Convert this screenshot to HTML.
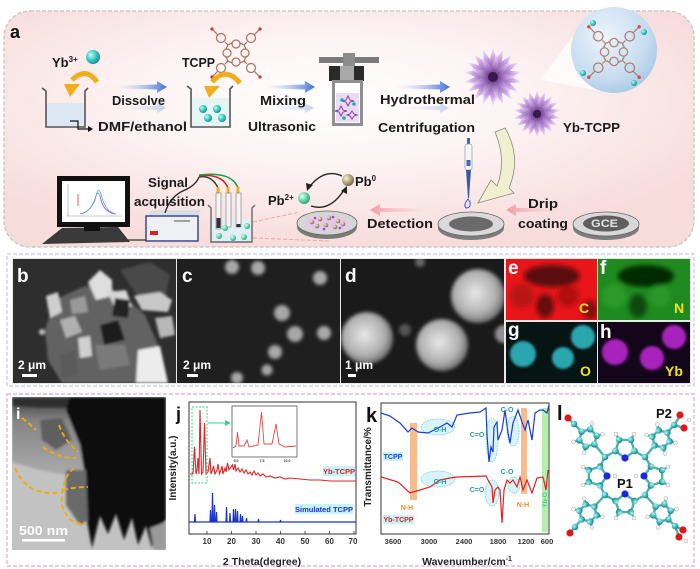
<!DOCTYPE html>
<html><head><meta charset="utf-8">
<style>
html,body{margin:0;padding:0;background:#fff}
svg{display:block}
text{font-family:"Liberation Sans",sans-serif;font-weight:bold}
</style></head>
<body>
<svg width="700" height="569" viewBox="0 0 700 569" xmlns="http://www.w3.org/2000/svg">
<defs>
  <radialGradient id="bgA" cx="0.47" cy="0.38" r="0.62">
    <stop offset="0" stop-color="#ffffff"/>
    <stop offset="0.45" stop-color="#fdf3f3"/>
    <stop offset="1" stop-color="#f7dcdc"/>
  </radialGradient>
  <linearGradient id="barr" x1="0" y1="0" x2="1" y2="0">
    <stop offset="0" stop-color="#ffffff" stop-opacity="0"/>
    <stop offset="1" stop-color="#3d70d8"/>
  </linearGradient>
  <linearGradient id="parr" x1="0" y1="0" x2="1" y2="0">
    <stop offset="0" stop-color="#f49aa4"/>
    <stop offset="1" stop-color="#fbe0e0" stop-opacity="0.2"/>
  </linearGradient>
  <radialGradient id="teal" cx="0.35" cy="0.35" r="0.7">
    <stop offset="0" stop-color="#c8fbf6"/><stop offset="0.5" stop-color="#3fcfc6"/><stop offset="1" stop-color="#178c88"/>
  </radialGradient>
  <radialGradient id="gold" cx="0.35" cy="0.35" r="0.7">
    <stop offset="0" stop-color="#f4f0dc"/><stop offset="0.5" stop-color="#b9ad85"/><stop offset="1" stop-color="#6f6547"/>
  </radialGradient>
  <radialGradient id="mint" cx="0.35" cy="0.35" r="0.7">
    <stop offset="0" stop-color="#e6fff0"/><stop offset="0.5" stop-color="#6fdcae"/><stop offset="1" stop-color="#2e9d74"/>
  </radialGradient>
  <radialGradient id="bub" cx="0.4" cy="0.35" r="0.7">
    <stop offset="0" stop-color="#eef5fc"/><stop offset="0.7" stop-color="#c6dcf0"/><stop offset="1" stop-color="#a9c7e6"/>
  </radialGradient>
  <linearGradient id="spg" x1="0" y1="1" x2="0" y2="0">
    <stop offset="0" stop-color="#7a4a9a"/><stop offset="0.55" stop-color="#c8a2e2"/><stop offset="1" stop-color="#fbf4fe"/>
  </linearGradient>
  <radialGradient id="fc" cx="0.5" cy="0.5" r="0.5">
    <stop offset="0" stop-color="#4a2260"/><stop offset="1" stop-color="#b894d4"/>
  </radialGradient>
  <path id="sp" d="M-6,-6 L0,-30 L6,-6 Z" fill="url(#spg)"/>
  <path id="sp2" d="M-5,-5 L0,-24 L5,-5 Z" fill="url(#spg)"/>
  <g id="flower">
    <circle r="18" fill="url(#fc)"/>
    <use href="#sp"/><use href="#sp" transform="rotate(20)"/><use href="#sp" transform="rotate(40)"/>
    <use href="#sp" transform="rotate(60)"/><use href="#sp" transform="rotate(80)"/><use href="#sp" transform="rotate(100)"/>
    <use href="#sp" transform="rotate(120)"/><use href="#sp" transform="rotate(140)"/><use href="#sp" transform="rotate(160)"/>
    <use href="#sp" transform="rotate(180)"/><use href="#sp" transform="rotate(200)"/><use href="#sp" transform="rotate(220)"/>
    <use href="#sp" transform="rotate(240)"/><use href="#sp" transform="rotate(260)"/><use href="#sp" transform="rotate(280)"/>
    <use href="#sp" transform="rotate(300)"/><use href="#sp" transform="rotate(320)"/><use href="#sp" transform="rotate(340)"/>
    <use href="#sp2" transform="rotate(10)"/><use href="#sp2" transform="rotate(50)"/><use href="#sp2" transform="rotate(90)"/>
    <use href="#sp2" transform="rotate(130)"/><use href="#sp2" transform="rotate(170)"/><use href="#sp2" transform="rotate(210)"/>
    <use href="#sp2" transform="rotate(250)"/><use href="#sp2" transform="rotate(290)"/><use href="#sp2" transform="rotate(330)"/>
    <circle r="5" fill="#3a1a4a"/>
  </g>
  <g id="tcpp" fill="none" stroke="#a8705a" stroke-width="1.2">
    <circle cx="0" cy="-9" r="4"/><circle cx="9" cy="0" r="4"/><circle cx="0" cy="9" r="4"/><circle cx="-9" cy="0" r="4"/>
    <path d="M-4,-10 L-8,-8 L-10,-4 M4,-10 L8,-8 L10,-4 M-4,10 L-8,8 L-10,4 M4,10 L8,8 L10,4"/>
    <path d="M-8,-8 L-11,-11 M8,-8 L11,-11 M-8,8 L-11,11 M8,8 L11,11"/>
    <circle cx="-15" cy="-15" r="4.5"/><circle cx="15" cy="-15" r="4.5"/><circle cx="-15" cy="15" r="4.5"/><circle cx="15" cy="15" r="4.5"/>
    <path d="M-18,-18 L-23,-23 M18,-18 L23,-23 M-18,18 L-23,23 M18,18 L23,23"/>
    <circle cx="-24" cy="-24" r="1.6" fill="#d83030" stroke="none"/><circle cx="24" cy="-24" r="1.6" fill="#d83030" stroke="none"/>
    <circle cx="-24" cy="24" r="1.6" fill="#d83030" stroke="none"/><circle cx="24" cy="24" r="1.6" fill="#d83030" stroke="none"/>
  </g>
  <filter id="bl" x="-10%" y="-10%" width="120%" height="120%"><feGaussianBlur stdDeviation="1.3"/></filter>
  <filter id="bl2" x="-20%" y="-20%" width="140%" height="140%"><feGaussianBlur stdDeviation="1.8"/></filter>
  <filter id="bl3" x="-20%" y="-20%" width="140%" height="140%"><feGaussianBlur stdDeviation="2.5"/></filter>
  <clipPath id="cb"><rect x="13" y="259" width="163" height="124"/></clipPath>
  <clipPath id="cc"><rect x="177" y="259" width="163" height="124"/></clipPath>
  <clipPath id="cd"><rect x="341" y="259" width="163" height="124"/></clipPath>
  <clipPath id="ce"><rect x="506" y="259" width="91" height="61"/></clipPath>
  <clipPath id="cf"><rect x="598" y="259" width="92" height="61"/></clipPath>
  <clipPath id="cg"><rect x="506" y="322" width="91" height="61"/></clipPath>
  <clipPath id="ch"><rect x="598" y="322" width="92" height="61"/></clipPath>
  <clipPath id="ci"><rect x="12" y="397" width="154" height="153"/></clipPath>
  <linearGradient id="temg" x1="0" y1="0" x2="0" y2="1">
    <stop offset="0" stop-color="#3a3a3a"/><stop offset="0.3" stop-color="#858585"/><stop offset="1" stop-color="#ababab"/>
  </linearGradient>
  <radialGradient id="cat" cx="0.35" cy="0.35" r="0.7">
    <stop offset="0" stop-color="#b8f4f4"/><stop offset="0.6" stop-color="#3cb8b8"/><stop offset="1" stop-color="#1a7a7a"/>
  </radialGradient>
  <radialGradient id="sem" cx="0.45" cy="0.45" r="0.55">
    <stop offset="0" stop-color="#e8e8e8"/><stop offset="0.7" stop-color="#b0b0b0"/><stop offset="1" stop-color="#707070"/>
  </radialGradient>
  <g id="pyr">
    <path d="M0,10 L-9.51,3.09 L-5.88,-8.09 L5.88,-8.09 L9.51,3.09 Z M-5.88,-8.09 L-9,-14 M5.88,-8.09 L9,-14" fill="none" stroke="#4fb0b0" stroke-width="2.4"/>
    <circle cx="-9" cy="-14" r="2" fill="#f2f2f2" stroke="#999" stroke-width="0.4"/>
    <circle cx="9" cy="-14" r="2" fill="#f2f2f2" stroke="#999" stroke-width="0.4"/>
    <circle cx="-9.51" cy="3.09" r="3.3" fill="url(#cat)"/><circle cx="9.51" cy="3.09" r="3.3" fill="url(#cat)"/>
    <circle cx="-5.88" cy="-8.09" r="3.3" fill="url(#cat)"/><circle cx="5.88" cy="-8.09" r="3.3" fill="url(#cat)"/>
    <circle cx="0" cy="10" r="3.6" fill="#1a2ad8"/>
  </g>
  <g id="hex">
    <path d="M9,0 L4.5,7.79 L-4.5,7.79 L-9,0 L-4.5,-7.79 L4.5,-7.79 Z M4.5,7.79 L7.5,13 M-4.5,7.79 L-7.5,13 M-4.5,-7.79 L-7.5,-13 M4.5,-7.79 L7.5,-13" fill="none" stroke="#4fb0b0" stroke-width="2.4"/>
    <circle cx="7.5" cy="13" r="2" fill="#f2f2f2" stroke="#999" stroke-width="0.4"/>
    <circle cx="-7.5" cy="13" r="2" fill="#f2f2f2" stroke="#999" stroke-width="0.4"/>
    <circle cx="-7.5" cy="-13" r="2" fill="#f2f2f2" stroke="#999" stroke-width="0.4"/>
    <circle cx="7.5" cy="-13" r="2" fill="#f2f2f2" stroke="#999" stroke-width="0.4"/>
    <circle cx="9" cy="0" r="3.3" fill="url(#cat)"/><circle cx="4.5" cy="7.79" r="3.3" fill="url(#cat)"/>
    <circle cx="-4.5" cy="7.79" r="3.3" fill="url(#cat)"/><circle cx="-9" cy="0" r="3.3" fill="url(#cat)"/>
    <circle cx="-4.5" cy="-7.79" r="3.3" fill="url(#cat)"/><circle cx="4.5" cy="-7.79" r="3.3" fill="url(#cat)"/>
  </g>
</defs>

<rect width="700" height="569" fill="#ffffff"/>

<!-- ================= PANEL A ================= -->
<rect x="4" y="11" width="690" height="236" rx="26" fill="url(#bgA)" stroke="#c9c9c9" stroke-width="1.4" stroke-dasharray="4 2"/>
<text x="10" y="38" font-size="18" fill="#111">a</text>

<text x="52" y="67" font-size="13" fill="#1a1a1a">Yb<tspan font-size="8" dy="-5">3+</tspan></text>
<circle cx="93" cy="57" r="7" fill="url(#teal)"/>
<rect x="46" y="103" width="38" height="24" fill="#dce8f4"/>
<path d="M42,88 L46,91 L46,127 L85,127 L85,91 L88,88" fill="none" stroke="#555" stroke-width="1.6"/>
<path d="M97,82 Q86,66 72,80" fill="none" stroke="#f0ae1c" stroke-width="5"/>
<polygon points="64,84 80,84 70,97" fill="#f0ae1c"/>
<path d="M70,121 L78,121 L78,129 L89,129" fill="none" stroke="#111" stroke-width="1.2"/>
<polygon points="88,126 93,129 88,132" fill="#111"/>

<polygon points="108,86 157,84.5 157,81 167,87 157,93 157,89.5 108,88" fill="url(#barr)"/>
<polygon points="108,107 157,106 157,103 166,108 157,113 157,110 108,109" fill="url(#barr)" opacity="0.3"/>
<text x="112" y="105" font-size="13" fill="#1a1a1a" textLength="53" lengthAdjust="spacingAndGlyphs">Dissolve</text>
<text x="98" y="131" font-size="13" fill="#1a1a1a" textLength="89" lengthAdjust="spacingAndGlyphs">DMF/ethanol</text>

<text x="182" y="67" font-size="13" fill="#1a1a1a" textLength="33" lengthAdjust="spacingAndGlyphs">TCPP</text>
<use href="#tcpp" transform="translate(236,53)"/>
<rect x="191" y="98" width="38" height="29" fill="#e6f4f4"/>
<path d="M187,86 L191,89 L191,127 L230,127 L230,89 L233,86" fill="none" stroke="#555" stroke-width="1.6"/>
<circle cx="203" cy="109" r="4" fill="url(#teal)"/><circle cx="217" cy="109" r="4" fill="url(#teal)"/>
<circle cx="208" cy="118" r="4" fill="url(#teal)"/><circle cx="222" cy="118" r="4" fill="url(#teal)"/>
<path d="M240,83 Q226,66 212,82" fill="none" stroke="#f0ae1c" stroke-width="5"/>
<polygon points="204,86 220,86 209,98" fill="#f0ae1c"/>

<polygon points="256,86 305,84.5 305,81 315,87 305,93 305,89.5 256,88" fill="url(#barr)"/>
<polygon points="256,107 305,106 305,103 314,108 305,113 305,110 256,109" fill="url(#barr)" opacity="0.3"/>
<text x="260" y="105" font-size="13" fill="#1a1a1a" textLength="46" lengthAdjust="spacingAndGlyphs">Mixing</text>
<text x="248" y="131" font-size="13" fill="#1a1a1a" textLength="68" lengthAdjust="spacingAndGlyphs">Ultrasonic</text>

<rect x="319" y="57" width="60" height="6" fill="#7a7a7a"/>
<rect x="343" y="53" width="12" height="14" fill="#8c8c8c"/>
<rect x="329" y="66" width="35" height="15" fill="#2a2a2a"/>
<rect x="340" y="66" width="14" height="15" fill="#a8a8a8"/>
<rect x="332" y="80" width="31" height="46" fill="#8f8f8f"/>
<rect x="335" y="83" width="25" height="40" fill="#ffffff"/>
<rect x="336" y="93" width="23" height="29" fill="#eadcf0"/>
<path d="M348,96 l2,4 4,1 -4,1 -2,4 -2,-4 -4,-1 4,-1 Z M341,106 l2,4 4,1 -4,1 -2,4 -2,-4 -4,-1 4,-1 Z M352,111 l2,3 3,1 -3,1 -2,3 -2,-3 -3,-1 3,-1 Z" fill="none" stroke="#8a3ab0" stroke-width="1"/>
<circle cx="342" cy="100" r="1.8" fill="#1ab0a8"/><circle cx="354" cy="104" r="1.8" fill="#1ab0a8"/><circle cx="344" cy="118" r="1.8" fill="#1ab0a8"/>

<polygon points="388,86 440,84.5 440,81 450,87 440,93 440,89.5 388,88" fill="url(#barr)"/>
<polygon points="388,107 440,106 440,103 449,108 440,113 440,110 388,109" fill="url(#barr)" opacity="0.3"/>
<text x="380" y="104" font-size="13" fill="#1a1a1a" textLength="95" lengthAdjust="spacingAndGlyphs">Hydrothermal</text>
<text x="378" y="132" font-size="13" fill="#1a1a1a" textLength="97" lengthAdjust="spacingAndGlyphs">Centrifugation</text>

<polygon points="540,80 582,24 596,90" fill="#ffffff" opacity="0.75"/>
<circle cx="614" cy="50" r="43" fill="url(#bub)"/>
<use href="#tcpp" transform="translate(614,52) scale(1.05)" opacity="0.85"/>
<circle cx="593" cy="23" r="3" fill="url(#teal)"/><circle cx="644" cy="32" r="3" fill="url(#teal)"/>
<circle cx="583" cy="73" r="3" fill="url(#teal)"/><circle cx="634" cy="83" r="3" fill="url(#teal)"/>

<use href="#flower" transform="translate(493,77)"/>
<use href="#flower" transform="translate(537,114) scale(0.82)"/>
<text x="563" y="132" font-size="13" fill="#1a1a1a" textLength="57" lengthAdjust="spacingAndGlyphs">Yb-TCPP</text>

<polygon points="42,244 62,228 118,227 130,242" fill="#3a3a3a"/>
<rect x="57" y="176" width="73" height="51" fill="#111"/>
<rect x="62" y="181" width="63" height="41" fill="#fff"/>
<path d="M66,216 L122,216 M68,184 L68,216" stroke="#999" stroke-width="0.6"/>
<path d="M80,214 Q90,212 95,200 Q98,186 101,200 Q104,212 115,214" fill="none" stroke="#c040c0" stroke-width="0.8"/>
<path d="M82,214 Q92,210 96,196 Q99,184 102,198 Q106,212 116,214" fill="none" stroke="#40b0d0" stroke-width="0.8"/>
<path d="M78,194 L78,206" stroke="#e03040" stroke-width="0.8"/>
<rect x="84" y="227" width="16" height="4" fill="#111"/>
<path d="M128,240 L147,240" stroke="#333" stroke-width="1.2"/>
<polygon points="147,216 152,210 201,210 198,216" fill="#d8dde6"/>
<rect x="146" y="216" width="52" height="25" fill="#eef0f4" stroke="#2b3f8a" stroke-width="1.4"/>
<rect x="150" y="231" width="8" height="4" fill="#d82020"/>
<path d="M174,221 L190,221" stroke="#555" stroke-width="1"/>
<path d="M165,213 Q170,196 185,190 Q196,185 199,177" fill="none" stroke="#222" stroke-width="1.3"/>
<text x="148" y="187" font-size="13" fill="#1a1a1a" textLength="40" lengthAdjust="spacingAndGlyphs">Signal</text>
<text x="134" y="206" font-size="13" fill="#1a1a1a" textLength="71" lengthAdjust="spacingAndGlyphs">acquisition</text>
<path d="M199,177 Q212,175 218,188" fill="none" stroke="#333" stroke-width="1.4"/>
<path d="M199,176 Q222,173 228,188" fill="none" stroke="#d02020" stroke-width="1.6"/>
<path d="M199,175 Q232,171 238,188" fill="none" stroke="#1da040" stroke-width="1.6"/>
<rect x="216.5" y="187" width="3" height="6" fill="#e8b020"/>
<rect x="226.5" y="187" width="3" height="6" fill="#e8b020"/>
<rect x="236.5" y="187" width="3" height="6" fill="#e8b020"/>
<rect x="211" y="219" width="41" height="23" fill="#e2eef6"/>
<path d="M208,205 L211,208 L211,242 L252,242 L252,208 L255,205" fill="none" stroke="#666" stroke-width="1.4"/>
<rect x="216" y="193" width="5" height="36" fill="#f4f4f4" stroke="#777" stroke-width="0.6"/>
<rect x="216.5" y="218" width="4" height="10" fill="#333"/>
<rect x="226" y="193" width="5" height="34" fill="#f4f4f4" stroke="#777" stroke-width="0.6"/>
<rect x="236" y="193" width="5" height="34" fill="#f4f4f4" stroke="#777" stroke-width="0.6"/>
<rect x="236.5" y="224" width="4" height="3" fill="#333"/>
<circle cx="225" cy="228" r="3" fill="url(#mint)"/><circle cx="247" cy="226" r="3" fill="url(#mint)"/>
<circle cx="219" cy="236" r="3" fill="url(#mint)"/><circle cx="233" cy="238" r="3" fill="url(#mint)"/><circle cx="244" cy="237" r="3" fill="url(#mint)"/>
<path d="M253,222 L300,212 M253,238 L330,241" stroke="#f2a4a8" stroke-width="1" stroke-dasharray="4 2"/>

<text x="268" y="205" font-size="13" fill="#1a1a1a">Pb<tspan font-size="8" dy="-5">2+</tspan></text>
<circle cx="304" cy="198" r="6" fill="url(#mint)"/>
<circle cx="348" cy="180" r="6" fill="url(#gold)"/>
<text x="355" y="186" font-size="13" fill="#1a1a1a">Pb<tspan font-size="8" dy="-5">0</tspan></text>
<path d="M342,176 Q325,168 310,186" fill="none" stroke="#222" stroke-width="1.3"/>
<polygon points="306,183 313,185 307,191" fill="#222"/>
<path d="M311,206 Q330,212 344,190" fill="none" stroke="#222" stroke-width="1.3"/>
<polygon points="341,191 347,186 347,194" fill="#222"/>
<ellipse cx="327" cy="227" rx="30" ry="12" fill="#7a7a7a"/>
<ellipse cx="327" cy="223" rx="30" ry="12" fill="#d6d6d6" stroke="#666" stroke-width="0.8"/>
<ellipse cx="327" cy="223" rx="22" ry="7.5" fill="#e8c8ea"/>
<g fill="url(#gold)">
<circle cx="312" cy="222" r="2.3"/><circle cx="320" cy="219" r="2.3"/><circle cx="329" cy="218" r="2.3"/><circle cx="338" cy="221" r="2.3"/>
<circle cx="317" cy="226" r="2.3"/><circle cx="326" cy="225" r="2.3"/><circle cx="335" cy="227" r="2.3"/><circle cx="343" cy="224" r="2.3"/>
</g>
<g fill="#9a4ac0"><circle cx="315" cy="218" r="1.3"/><circle cx="324" cy="229" r="1.3"/><circle cx="333" cy="217" r="1.3"/><circle cx="340" cy="228" r="1.3"/></g>

<polygon points="370,210 380,204 380,208 432,208.5 432,211.5 380,212 380,216" fill="url(#parr)"/>
<text x="367" y="228" font-size="13" fill="#1a1a1a" textLength="66" lengthAdjust="spacingAndGlyphs">Detection</text>
<ellipse cx="471" cy="228" rx="33" ry="12" fill="#7c7c7c"/>
<ellipse cx="471" cy="224" rx="33" ry="12" fill="#dadada" stroke="#666" stroke-width="0.8"/>
<ellipse cx="471" cy="224" rx="22" ry="7.5" fill="#6a6a6a"/>
<rect x="467" y="138" width="3" height="6" fill="#3a6ab0"/>
<rect x="465" y="144" width="7" height="26" rx="2" fill="#f4f6f8" stroke="#8a9ab0" stroke-width="0.7"/>
<rect x="466.5" y="160" width="4" height="6" fill="#3a6ab0"/>
<polygon points="466,170 471,170 469,198 468,198" fill="#3a5aa0"/>
<path d="M468,199 Q463,205 466,208 Q471,208 470,202 Z" fill="#e8e6ff" stroke="#4040c0" stroke-width="0.9"/>
<path d="M495,132 L505,128 Q522,157 509,188 L514,193 L478,203 L491,180 L497,186 Q507,160 495,132 Z" fill="#f2eed0" stroke="#8a8a7a" stroke-width="0.8"/>
<polygon points="506,210 516,204 516,208 566,208.5 566,211.5 516,212 516,216" fill="url(#parr)"/>
<text x="528" y="208" font-size="13" fill="#1a1a1a" textLength="30" lengthAdjust="spacingAndGlyphs">Drip</text>
<text x="518" y="228" font-size="13" fill="#1a1a1a" textLength="50" lengthAdjust="spacingAndGlyphs">coating</text>
<ellipse cx="606" cy="228" rx="33" ry="12" fill="#7c7c7c"/>
<ellipse cx="606" cy="224" rx="33" ry="12" fill="#d8d8d8" stroke="#666" stroke-width="0.8"/>
<ellipse cx="606" cy="223.5" rx="23" ry="8" fill="#5e5e5e"/>
<text x="591" y="227" font-size="11" fill="#e4e4e4" textLength="27" lengthAdjust="spacingAndGlyphs">GCE</text>

<!-- ================= PANEL B-H ================= -->
<rect x="7" y="254" width="687" height="132" fill="none" stroke="#d9cdee" stroke-width="1.4" stroke-dasharray="4 2"/>
<rect x="12" y="258" width="679" height="126" fill="#e8e8e8"/>

<g clip-path="url(#cb)">
<rect x="13" y="259" width="163" height="124" fill="#2e2e2e"/>
<g filter="url(#bl)">
<polygon points="45,330 55,300 80,288 100,282 122,295 145,315 158,345 150,383 62,383 48,360" fill="#626262"/>
<polygon points="120,270 150,262 170,275 165,300 140,300" fill="#4a4a4a"/>
<polygon points="88,282 100,270 112,280 112,296 96,300" fill="#dedede"/>
<polygon points="108,292 126,290 132,306 116,312" fill="#d6d6d6"/>
<polygon points="134,296 160,292 172,300 168,312 142,310" fill="#c8c8c8"/>
<polygon points="46,296 58,292 62,312 50,318" fill="#cfcfcf"/>
<polygon points="60,320 75,316 82,332 66,338" fill="#b0b0b0"/>
<polygon points="78,338 90,336 92,356 80,358" fill="#d0d0d0"/>
<polygon points="138,350 160,346 168,383 136,383" fill="#ececec"/>
<polygon points="100,325 118,320 125,340 104,345" fill="#1c1c1c"/>
<polygon points="115,298 130,300 128,318 112,316" fill="#202020"/>
<polygon points="70,300 85,296 88,312 72,314" fill="#9a9a9a"/>
<polygon points="95,345 125,345 130,365 100,370" fill="#7a7a7a"/>
<polygon points="60,355 75,350 78,375 62,378" fill="#5a5a5a"/>
<polygon points="155,318 172,316 175,335 160,338" fill="#b8b8b8"/>
<circle cx="42" cy="332" r="3" fill="#bbb"/>
</g>
<text x="17" y="282" font-size="19" fill="#fff">b</text>
<text x="18" y="369" font-size="12" fill="#fff">2 μm</text>
<rect x="22" y="374" width="15" height="3" fill="#fff"/>
</g>

<g clip-path="url(#cc)">
<rect x="177" y="259" width="163" height="124" fill="#1f1f1f"/>
<g filter="url(#bl2)" fill="#a8a8a8">
<circle cx="232" cy="267" r="7"/><circle cx="258" cy="268" r="7"/><circle cx="320" cy="278" r="7"/>
<circle cx="282" cy="313" r="8"/><circle cx="295" cy="334" r="8"/><circle cx="324" cy="333" r="7"/>
<circle cx="275" cy="352" r="7"/><circle cx="267" cy="370" r="5.5"/><circle cx="237" cy="378" r="6"/>
</g>
<text x="182" y="282" font-size="19" fill="#fff">c</text>
<text x="183" y="369" font-size="12" fill="#fff">2 μm</text>
<rect x="187" y="374" width="11" height="3" fill="#fff"/>
</g>

<g clip-path="url(#cd)">
<rect x="341" y="259" width="163" height="124" fill="#1a1a1a"/>
<g filter="url(#bl2)">
<circle cx="367" cy="338" r="26" fill="url(#sem)"/>
<circle cx="442" cy="345" r="26" fill="url(#sem)"/>
<circle cx="478" cy="296" r="27" fill="url(#sem)"/>
<circle cx="504" cy="334" r="9" fill="#909090"/>
<circle cx="405" cy="330" r="6" fill="#555"/>
<circle cx="420" cy="262" r="5" fill="#666"/>
</g>
<text x="345" y="282" font-size="19" fill="#fff">d</text>
<text x="345" y="369" font-size="12" fill="#fff">1 μm</text>
<rect x="348" y="374" width="8" height="3" fill="#fff"/>
</g>

<g clip-path="url(#ce)">
<rect x="506" y="259" width="91" height="61" fill="#e8161a"/>
<g filter="url(#bl3)">
<ellipse cx="552" cy="276" rx="28" ry="11" fill="#5a0808"/>
<ellipse cx="545" cy="306" rx="9" ry="12" fill="#6a0a0a"/>
<ellipse cx="590" cy="310" rx="8" ry="10" fill="#8a0c0c"/>
<circle cx="522" cy="296" r="12" fill="#b81212"/>
<circle cx="568" cy="296" r="11" fill="#b41010"/>
</g>
<text x="508" y="274" font-size="19" fill="#fff">e</text>
<text x="579" y="313" font-size="14" fill="#f2e21a">C</text>
</g>
<g clip-path="url(#cf)">
<rect x="598" y="259" width="92" height="61" fill="#1f8a1f"/>
<g filter="url(#bl3)">
<ellipse cx="646" cy="276" rx="28" ry="11" fill="#062a06"/>
<ellipse cx="638" cy="306" rx="9" ry="12" fill="#0e4a0e"/>
<circle cx="614" cy="296" r="12" fill="#2a9a2a"/>
<circle cx="660" cy="296" r="11" fill="#2a962a"/>
</g>
<text x="600" y="274" font-size="19" fill="#fff">f</text>
<text x="674" y="313" font-size="14" fill="#f2e21a">N</text>
</g>
<g clip-path="url(#cg)">
<rect x="506" y="322" width="91" height="61" fill="#061414"/>
<g filter="url(#bl)" fill="#2aa6ae">
<circle cx="523" cy="354" r="13"/><circle cx="563" cy="358" r="11"/><circle cx="583" cy="337" r="12"/>
</g>
<text x="508" y="336" font-size="19" fill="#fff">g</text>
<text x="580" y="376" font-size="14" fill="#f2e21a">O</text>
</g>
<g clip-path="url(#ch)">
<rect x="598" y="322" width="92" height="61" fill="#14061a"/>
<g filter="url(#bl)" fill="#a822bc">
<circle cx="615" cy="352" r="13"/><circle cx="652" cy="358" r="12"/><circle cx="674" cy="337" r="12"/>
</g>
<text x="600" y="338" font-size="19" fill="#fff">h</text>
<text x="665" y="376" font-size="14" fill="#f2e21a">Yb</text>
</g>

<!-- ================= BOTTOM PANEL ================= -->
<rect x="7" y="394" width="687" height="172" fill="none" stroke="#e2b9d2" stroke-width="1.4" stroke-dasharray="4 2"/>

<g clip-path="url(#ci)">
<rect x="12" y="397" width="154" height="153" fill="#c2c2c2"/>
<g filter="url(#bl)">
<polygon points="12,397 100,397 92,468 70,476 40,470 12,462" fill="url(#temg)"/>
<polygon points="12,397 90,397 80,408 40,408 12,406" fill="#2e2e2e"/>
<polygon points="70,397 166,397 166,520 158,528 152,548 146,526 138,545 132,518 124,540 116,514 108,534 100,516 92,548 86,515 84,470 80,445 72,425 66,410" fill="#0e0e0e"/>
<polygon points="66,470 86,470 88,520 80,525 66,505" fill="#6a6a6a"/>
<polygon points="40,420 62,418 72,440 56,450 42,440" fill="#5e5e5e"/>
<polygon points="150,528 166,522 166,550 154,550" fill="#9a9a9a"/>
</g>
<g fill="none" stroke="#f5ac00" stroke-width="1.8" stroke-dasharray="5 3">
<path d="M22,418 Q30,424 36,430"/>
<path d="M59,425 Q64,440 78,452"/>
<path d="M43,447 Q58,458 76,458"/>
<path d="M15,468 Q24,490 47,493 Q54,494 60,492"/>
<path d="M74,468 Q60,480 62,505 Q68,525 86,524"/>
<path d="M63,490 Q75,487 88,487"/>
</g>
<text x="16" y="419" font-size="16" fill="#fff">i</text>
<text x="19" y="535" font-size="13" fill="#fff" font-weight="normal" textLength="49" lengthAdjust="spacingAndGlyphs">500 nm</text>
<rect x="22" y="539" width="43" height="2.5" fill="#fff"/>
</g>

<text x="176" y="420" font-size="18" fill="#111">j</text>
<text transform="translate(176,468) rotate(-90)" font-size="10" fill="#222" text-anchor="middle">Intensity(a.u.)</text>
<rect x="189" y="402" width="167" height="132" fill="#fff" stroke="#333" stroke-width="1"/>
<polyline fill="none" stroke="#e02424" stroke-width="1.1" points="190,474 193,474 194.5,447 196,474 197,470 198,458 199,474 200,410 201.5,474 203,472 204.5,423 206,474 208,472 210,458 211,474 212.5,470 213.5,466 215,474 217,470 218,464 219.5,474 221,470 222,466 223,474 225,468 226,472 227.5,463 229,470 231,467 232.5,465 233.5,470 235,464 236,471 238,468 240,472 242,469 244,473 246,470 248,474 250,472 252,475 254,471 256,475 258,473 260,476 263,474 266,477 270,476 275,478 280,477 285,479 290,478 300,479 310,480 320,480 330,481 340,481 356,481"/>
<polyline fill="none" stroke="#1a34c8" stroke-width="1.2" points="189,522 194.5,522 195,514 195.5,522 210,522 210.5,510 211,522 212,522 212.5,493 213,522 214,522 214.5,505 215,522 216,522 216.5,512 217,522 226,522 226.5,507 227,522 229.5,522 230,513 230.5,522 233,522 233.5,509 234,522 235,522 235.5,509 236,522 237,522 237.5,511 238,522 240,522 240.5,514 241,522 242,522 242.5,516 243,522 246,522 246.5,518 247,522 258,522 258.5,519 259,522 280,522 280.5,520 281,522 356,522"/>
<rect x="192" y="407" width="15" height="76" fill="none" stroke="#3ad28a" stroke-width="1" stroke-dasharray="2 1.5"/>
<path d="M208,423 L226,423" stroke="#3ad28a" stroke-width="1"/>
<polygon points="225,420 231,423 225,426" fill="#3ad28a"/>
<rect x="232" y="406" width="65" height="51" fill="#fff" stroke="#555" stroke-width="0.8"/>
<polyline fill="none" stroke="#e04848" stroke-width="0.9" points="233,448 236,446 237.5,432 239,446 244,446 247,440 249,447 258,445 261.5,412 264,444 272,444 276,424 279,444 285,447 296,446"/>
<text x="236" y="462" font-size="3.5" fill="#333" text-anchor="middle" font-weight="normal">5.0</text>
<text x="262" y="462" font-size="3.5" fill="#333" text-anchor="middle" font-weight="normal">7.5</text>
<text x="287" y="462" font-size="3.5" fill="#333" text-anchor="middle" font-weight="normal">10.0</text>
<rect x="323" y="466" width="32" height="10" fill="#c4f4f8"/>
<text x="339" y="474" font-size="7.5" fill="#e02020" text-anchor="middle">Yb-TCPP</text>
<rect x="295" y="504" width="58" height="10" fill="#c4f4f8"/>
<text x="324" y="512" font-size="7.5" fill="#2030c8" text-anchor="middle">Simulated  TCPP</text>
<g stroke="#333" stroke-width="0.8">
<path d="M207,534 v-3 M231.5,534 v-3 M256,534 v-3 M280.5,534 v-3 M305,534 v-3 M329.5,534 v-3 M354,534 v-3"/>
</g>
<g font-size="8" fill="#333" text-anchor="middle" font-weight="normal">
<text x="207" y="544">10</text><text x="231.5" y="544">20</text><text x="256" y="544">30</text><text x="280.5" y="544">40</text>
<text x="305" y="544">50</text><text x="329.5" y="544">60</text><text x="353" y="544">70</text>
</g>
<text x="262" y="565" font-size="10.5" fill="#222" text-anchor="middle">2 Theta(degree)</text>

<text x="366" y="422" font-size="20" fill="#111">k</text>
<text transform="translate(371,467) rotate(-90)" font-size="10" fill="#222" text-anchor="middle">Transmittance/%</text>
<rect x="381" y="403" width="168" height="131" fill="#fff" stroke="#333" stroke-width="1"/>
<rect x="410" y="423" width="7" height="77" fill="#f6b07a" opacity="0.85"/>
<rect x="521" y="408" width="6" height="86" fill="#f6b07a" opacity="0.85"/>
<rect x="542" y="408" width="6" height="124" fill="#a8eca0" opacity="0.85"/>
<g fill="#d8f4f8" stroke="#6ac8d0" stroke-width="0.7" stroke-dasharray="1.5 1">
<ellipse cx="438" cy="427" rx="17" ry="8"/>
<ellipse cx="438" cy="479" rx="17" ry="8"/>
<ellipse cx="492" cy="440" rx="6" ry="22"/>
<ellipse cx="492" cy="493" rx="7" ry="13"/>
<ellipse cx="513" cy="431" rx="6" ry="15"/>
<ellipse cx="514" cy="485" rx="6" ry="8"/>
</g>
<polyline fill="none" stroke="#1a3cd8" stroke-width="1.2" points="381,413 390,416 400,423 408,432 412,428 418,432 428,433 440,427 447,423 452,427 457,415 470,413 480,412 486,408 487,435 489,462 491,447 493,452 494,427 497,422 498,440 502,430 505,410 508,433 510,443 513,423 518,410 522,422 525,430 528,420 532,440 535,413 540,410 543,410 547,413 549,405"/>
<polyline fill="none" stroke="#e02424" stroke-width="1.2" points="381,477 398,482 410,493 420,490 430,487 440,480 450,478 457,477 486,476 488,480 492,487 493,503 495,490 498,487 500,490 502,523 504,490 507,480 510,483 513,480 517,487 520,477 523,490 527,480 532,493 537,478 543,477 546,490 548,470"/>
<g font-size="7" fill="#2a9a9a" text-anchor="middle">
<text x="440" y="432">O-H</text><text x="440" y="484">O-H</text>
<text x="477" y="437">C=O</text><text x="477" y="492">C=O</text>
<text x="507" y="412">C-O</text><text x="507" y="474">C-O</text>
</g>
<g font-size="7" fill="#f08a30" text-anchor="middle">
<text x="407" y="510">N-H</text><text x="523" y="507">N-H</text>
</g>
<text transform="translate(547,500) rotate(-90)" font-size="6.5" fill="#3ad28a" text-anchor="middle">Yb-O</text>
<rect x="383" y="452" width="20" height="9" fill="#c4f4f8"/>
<text x="393" y="459" font-size="7" fill="#1a3cd8" text-anchor="middle">TCPP</text>
<rect x="383" y="515" width="31" height="9" fill="#c4f4f8"/>
<text x="398.5" y="522" font-size="7" fill="#e02020" text-anchor="middle">Yb-TCPP</text>
<g font-size="7.5" fill="#333" text-anchor="middle" font-weight="normal">
<text x="393" y="544">3600</text><text x="429" y="544">3000</text><text x="464" y="544">2400</text>
<text x="498" y="544">1800</text><text x="526" y="544">1200</text><text x="547" y="544">600</text>
</g>
<text x="467" y="565" font-size="10.5" fill="#222" text-anchor="middle">Wavenumber/cm<tspan font-size="7" dy="-4">-1</tspan></text>

<text x="557" y="420" font-size="20" fill="#111">l</text>
<g stroke="#4fb0b0" stroke-width="2.4" fill="none">
<path d="M605,457 L615.5,451 M605,457 L600,466.5 M645,457 L634.5,451 M645,457 L651,466.5 M605,495 L600,485.5 M605,495 L615.5,501 M645,495 L651,485.5 M645,495 L634.5,501"/>
<path d="M605,457 L594.4,444.4 M581.6,431.6 L574,424 L568,418"/>
<path d="M645,457 L654.6,445.4 M667.4,432.6 L674,425 L680,416 M674,425 L684,428"/>
<path d="M605,495 L594.4,506.6 M581.6,519.4 L575,527 L570,533"/>
<path d="M645,495 L655.6,506.6 M668.4,519.4 L675,526 L683,530 M675,526 L679,537"/>
</g>
<use href="#pyr" transform="translate(625,448)"/>
<use href="#pyr" transform="translate(625,504) rotate(180)"/>
<use href="#pyr" transform="translate(597,476) rotate(-90)"/>
<use href="#pyr" transform="translate(654,476) rotate(90)"/>
<use href="#hex" transform="translate(588,438) rotate(45)"/>
<use href="#hex" transform="translate(661,439) rotate(-45)"/>
<use href="#hex" transform="translate(588,513) rotate(-45)"/>
<use href="#hex" transform="translate(662,513) rotate(45)"/>
<g fill="url(#cat)">
<circle cx="605" cy="457" r="3.3"/><circle cx="645" cy="457" r="3.3"/><circle cx="605" cy="495" r="3.3"/><circle cx="645" cy="495" r="3.3"/>
<circle cx="574" cy="424" r="3.3"/><circle cx="674" cy="425" r="3.3"/><circle cx="575" cy="527" r="3.3"/><circle cx="675" cy="526" r="3.3"/>
</g>
<g fill="#e01818">
<circle cx="568" cy="418" r="3.6"/><circle cx="680" cy="415" r="3.6"/><circle cx="684" cy="428" r="3.6"/>
<circle cx="570" cy="533" r="3.6"/><circle cx="683" cy="530" r="3.6"/><circle cx="679" cy="537" r="3.6"/>
</g>
<g fill="#f2f2f2" stroke="#999" stroke-width="0.4">
<circle cx="689" cy="420" r="2"/><circle cx="686" cy="541" r="2"/><circle cx="615" cy="476" r="2"/><circle cx="636" cy="476" r="2"/>
</g>
<text x="617" y="488" font-size="13" fill="#111">P1</text>
<text x="656" y="418" font-size="13" fill="#111">P2</text>
</svg>
</body></html>
